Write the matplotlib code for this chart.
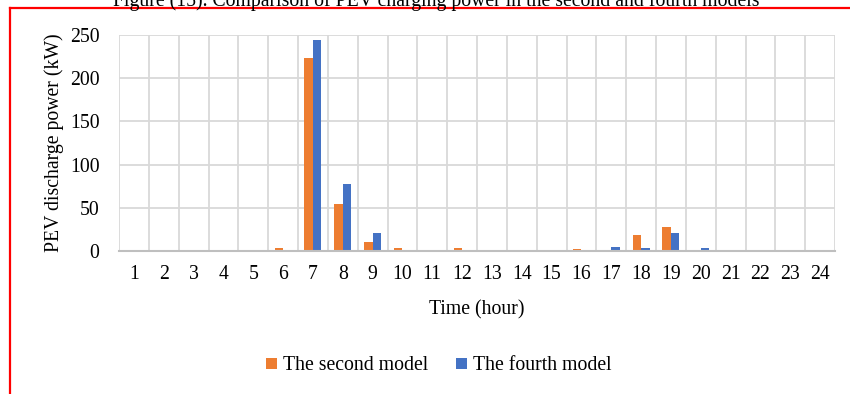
import matplotlib.pyplot as plt
import numpy as np
from matplotlib.lines import Line2D

plt.rcParams['font.family'] = ['Liberation Serif', 'DejaVu Serif']

# Potenza di scarica PEV per ora (kW)
hours = list(range(1, 25))
second_model = [0, 0, 0, 0, 0, 4, 223, 54, 10, 3.5, 0, 4,
                0, 0, 0, 2, 0, 19, 28, 0, 0, 0, 0, 0]
fourth_model = [0, 0, 0, 0, 0, 0, 244, 77, 21, 1, 0, 0,
                0, 0, 0, 0, 4.5, 4, 21, 3.5, 0, 0, 0, 0]

orange = '#ED7D31'
blue = '#4472C4'
W, H = 850, 394
fs = 14.2

fig = plt.figure(figsize=(W / 100, H / 100), dpi=100)
ax = fig.add_axes([119 / W, 1 - 251 / H, 716 / W, 216 / H])

x = np.arange(len(hours))
bw = 0.285
ax.bar(x - bw / 2, second_model, bw, color=orange, label='The second model', zorder=3)
ax.bar(x + bw / 2, fourth_model, bw, color=blue, label='The fourth model', zorder=3)

ax.set_xlim(-0.5, len(hours) - 0.5)
ax.set_ylim(0, 250)
ax.set_yticks(np.arange(0, 251, 50))
ax.set_xticks(x)
ax.set_xticklabels([str(h) for h in hours])

# griglia: linee verticali tra le categorie
for k in range(len(hours) + 1):
    ax.axvline(k - 0.5, color='#d9d9d9', lw=1.3, zorder=1)
for yv in range(50, 251, 50):
    ax.axhline(yv, color='#d9d9d9', lw=1.3, zorder=1)

for s in ['top', 'right', 'left']:
    ax.spines[s].set_visible(False)
ax.spines['bottom'].set_color('#bfbfbf')
ax.spines['bottom'].set_linewidth(1.5)
ax.spines['bottom'].set_zorder(4)
ax.tick_params(axis='both', length=0, labelsize=fs, colors='black')
ax.tick_params(axis='x', pad=10)
ax.tick_params(axis='y', pad=14)

ax.set_xlabel('Time (hour)', fontsize=fs, labelpad=12)
ax.set_ylabel('PEV discharge power (kW)', fontsize=fs, labelpad=4)

fig.legend(loc='center', bbox_to_anchor=(439 / W, 1 - 366 / H), ncol=2,
           frameon=False, fontsize=fs, handlelength=0.55, handleheight=0.55,
           handletextpad=0.3, columnspacing=1.4)

fig.text(436 / W, 1 - 1 / H,
         'Figure (15). Comparison of PEV charging power in the second and fourth models',
         ha='center', va='center', fontsize=fs)

# cornice rossa
fig.add_artist(Line2D([9.5 / W, 9.5 / W], [1 - 8 / H, 0], transform=fig.transFigure,
                      color='red', lw=1.6))
fig.add_artist(Line2D([9.5 / W, 1], [1 - 8 / H, 1 - 8 / H], transform=fig.transFigure,
                      color='red', lw=1.6))

fig.savefig('out.png', dpi=100)
